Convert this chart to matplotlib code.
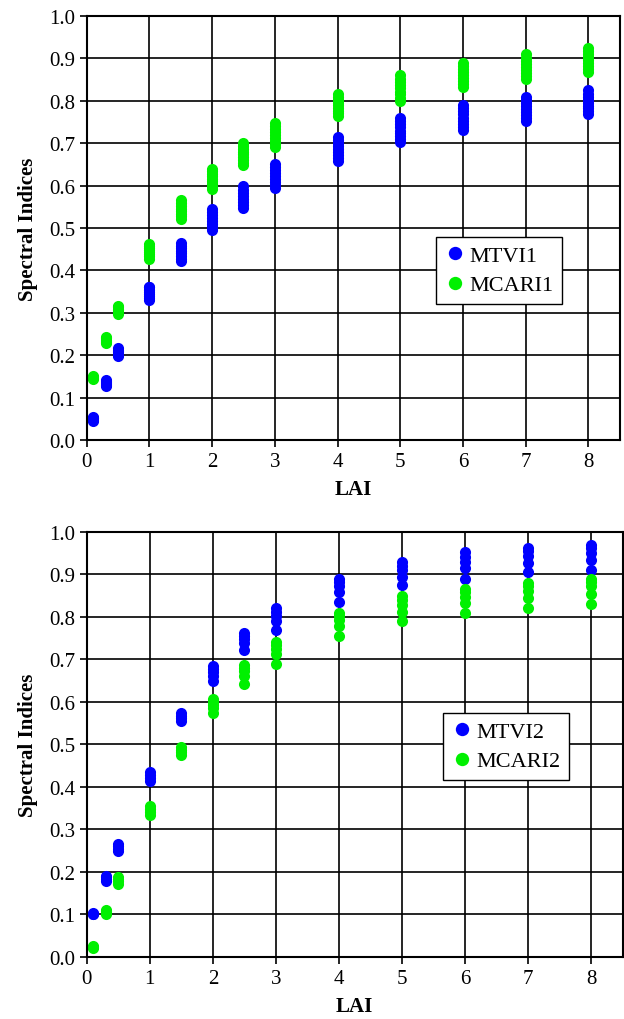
import matplotlib
matplotlib.use("Agg")
import matplotlib.pyplot as plt

plt.rcParams['font.family'] = ['Liberation Serif', 'DejaVu Serif']

lai = [0.1, 0.3, 0.5, 1, 1.5, 2, 2.5, 3, 4, 5, 6, 7, 8]
lai_ticks = [0, 1, 2, 3, 4, 5, 6, 7, 8]
y_ticks = [0.0, 0.1, 0.2, 0.3, 0.4, 0.5, 0.6, 0.7, 0.8, 0.9, 1.0]

# values at each LAI level (several leaf/canopy cases per level)
mtvi1 = [
    [0.045, 0.047, 0.049, 0.051, 0.053, 0.055],
    [0.128, 0.130, 0.133, 0.135, 0.137, 0.140, 0.142],
    [0.198, 0.201, 0.204, 0.207, 0.210, 0.213, 0.216],
    [0.330, 0.335, 0.340, 0.345, 0.350, 0.355, 0.360, 0.362],
    [0.422, 0.428, 0.434, 0.440, 0.446, 0.452, 0.458, 0.465],
    [0.495, 0.502, 0.509, 0.516, 0.523, 0.530, 0.537, 0.545],
    [0.548, 0.555, 0.562, 0.569, 0.576, 0.583, 0.590, 0.600],
    [0.595, 0.602, 0.609, 0.616, 0.623, 0.630, 0.637, 0.644, 0.650],
    [0.658, 0.665, 0.672, 0.679, 0.686, 0.693, 0.700, 0.707, 0.715],
    [0.702, 0.709, 0.716, 0.723, 0.730, 0.738, 0.745, 0.752, 0.760],
    [0.732, 0.739, 0.746, 0.753, 0.760, 0.768, 0.775, 0.782, 0.790],
    [0.752, 0.759, 0.766, 0.773, 0.780, 0.788, 0.795, 0.802, 0.810],
    [0.768, 0.775, 0.782, 0.789, 0.796, 0.803, 0.810, 0.817, 0.825],
]
mcari1 = [
    [0.145, 0.147, 0.149, 0.150],
    [0.228, 0.231, 0.234, 0.237, 0.240, 0.242],
    [0.298, 0.302, 0.306, 0.310, 0.313, 0.316],
    [0.428, 0.433, 0.438, 0.443, 0.448, 0.453, 0.458, 0.462],
    [0.522, 0.528, 0.534, 0.540, 0.546, 0.552, 0.558, 0.565],
    [0.592, 0.598, 0.604, 0.610, 0.616, 0.622, 0.628, 0.634, 0.640],
    [0.648, 0.654, 0.660, 0.667, 0.674, 0.680, 0.687, 0.694, 0.700],
    [0.692, 0.699, 0.706, 0.713, 0.720, 0.727, 0.734, 0.741, 0.748],
    [0.765, 0.771, 0.777, 0.783, 0.790, 0.796, 0.802, 0.808, 0.815],
    [0.800, 0.807, 0.815, 0.822, 0.830, 0.837, 0.845, 0.852, 0.860],
    [0.832, 0.839, 0.846, 0.853, 0.860, 0.867, 0.875, 0.882, 0.890],
    [0.852, 0.859, 0.866, 0.873, 0.880, 0.887, 0.895, 0.902, 0.910],
    [0.868, 0.875, 0.882, 0.889, 0.896, 0.903, 0.910, 0.917, 0.925],
]
mtvi2 = [
    [0.100, 0.102, 0.104],
    [0.178, 0.183, 0.188, 0.190],
    [0.250, 0.255, 0.260, 0.265],
    [0.415, 0.422, 0.428, 0.435],
    [0.555, 0.562, 0.568, 0.575],
    [0.650, 0.660, 0.670, 0.678, 0.684],
    [0.722, 0.738, 0.748, 0.756, 0.762],
    [0.770, 0.790, 0.802, 0.812, 0.822],
    [0.835, 0.858, 0.872, 0.882, 0.890],
    [0.875, 0.895, 0.910, 0.920, 0.930],
    [0.890, 0.915, 0.930, 0.942, 0.952],
    [0.905, 0.928, 0.944, 0.955, 0.963],
    [0.910, 0.935, 0.950, 0.962, 0.970],
]
mcari2 = [
    [0.020, 0.023, 0.025],
    [0.100, 0.104, 0.108, 0.111],
    [0.172, 0.178, 0.183, 0.188],
    [0.335, 0.342, 0.348, 0.355],
    [0.475, 0.482, 0.488, 0.495],
    [0.575, 0.585, 0.594, 0.600, 0.606],
    [0.642, 0.662, 0.672, 0.680, 0.686],
    [0.690, 0.712, 0.725, 0.735, 0.742],
    [0.755, 0.778, 0.792, 0.802, 0.810],
    [0.790, 0.812, 0.828, 0.840, 0.850],
    [0.810, 0.832, 0.848, 0.858, 0.866],
    [0.820, 0.845, 0.862, 0.872, 0.880],
    [0.830, 0.855, 0.872, 0.882, 0.890],
]

blue = '#0000ff'
green = '#00f000'


def flatten(groups):
    xs, ys = [], []
    for x, vals in zip(lai, groups):
        for v in vals:
            xs.append(x)
            ys.append(v)
    return xs, ys


def panel(ax, s1, s2, n1, n2, leg_pos):
    ax.set_axisbelow(True)
    ax.grid(True, color='black', linewidth=1.2)
    x1, y1 = flatten(s1)
    x2, y2 = flatten(s2)
    ax.plot(x1, y1, 'o', color=blue, markersize=8, markeredgewidth=0, label=n1)
    ax.plot(x2, y2, 'o', color=green, markersize=8, markeredgewidth=0, label=n2)
    ax.set_xlim(0, 8.5)
    ax.set_ylim(0, 1.0)
    ax.set_xticks(lai_ticks)
    ax.set_yticks(y_ticks)
    ax.set_yticklabels([f'{v:.1f}' for v in y_ticks])
    ax.tick_params(labelsize=15, length=5, width=1.2, color='black')
    for sp in ax.spines.values():
        sp.set_linewidth(1.5)
    ax.set_xlabel('LAI', fontsize=15, fontweight='bold', labelpad=6)
    ax.set_ylabel('Spectral Indices', fontsize=15, fontweight='bold', labelpad=8)
    leg = ax.legend(loc='upper left', bbox_to_anchor=leg_pos, fontsize=16,
                    frameon=True, fancybox=False, framealpha=1, edgecolor='black',
                    handletextpad=0.2, handlelength=0.9, borderpad=0.4,
                    labelspacing=0.4, borderaxespad=0, markerscale=1.2)
    leg.get_frame().set_linewidth(1.0)


fig = plt.figure(figsize=(6.24, 10.2), dpi=100)
ax1 = fig.add_axes([0.139, 0.5676, 0.854, 0.4157])
ax2 = fig.add_axes([0.139, 0.0608, 0.859, 0.4167])

panel(ax1, mtvi1, mcari1, 'MTVI1', 'MCARI1', (0.655, 0.48))
panel(ax2, mtvi2, mcari2, 'MTVI2', 'MCARI2', (0.664, 0.575))

fig.savefig('out.png', dpi=100)
